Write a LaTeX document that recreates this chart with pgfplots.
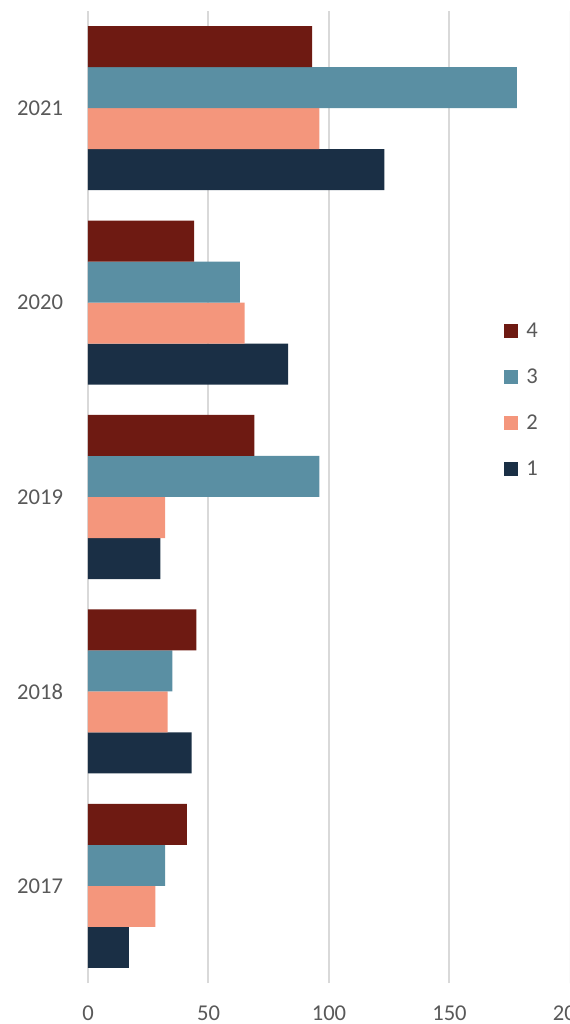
\documentclass[border=0pt]{standalone}
\usepackage{pgfplots}
\pgfplotsset{compat=1.18}
\usepackage{fontspec}
\setmainfont{Carlito}
\definecolor{cfour}{HTML}{6E1A12}
\definecolor{cthree}{HTML}{5A8FA3}
\definecolor{ctwo}{HTML}{F4967C}
\definecolor{cone}{HTML}{1A2F45}
\definecolor{gridgray}{HTML}{D9D9D9}
\definecolor{labgray}{HTML}{595959}
\begin{document}
\begin{tikzpicture}
\useasboundingbox (-44pt,-20.5pt) rectangle (240.5pt,491.5pt);
\clip (-44pt,-20.5pt) rectangle (240.5pt,491.5pt);
\begin{axis}[
  at={(0pt,0pt)}, anchor=south west,
  scale only axis, width=241pt, height=486pt,
  xmin=0, xmax=200, ymin=-0.5, ymax=4.5,
  xbar, bar width=0.2109,
  ytick={0,1,2,3,4}, yticklabels={2017,2018,2019,2020,2021},
  xtick={0,50,100,150,200},
  xmajorgrids, ymajorgrids=false,
  major grid style={draw=gridgray, line width=1pt},
  axis line style={draw=none},
  tick style={draw=none},
  font=\fontsize{11.3pt}{13pt}\selectfont,
  /pgf/number format/assume math mode=true,
  tick label style={text=labgray, inner sep=0pt},
  xticklabel style={anchor=north, yshift=-11pt},
  yticklabel style={anchor=east, xshift=-8pt},
  clip=false,
  legend image code/.code={\fill[#1] (0pt,-3.5pt) rectangle (7pt,3.5pt);},
  reverse legend,
  legend style={draw=none, fill=none, at={(axis description cs:0.863,0.600)}, anchor=west,
    inner sep=0pt, row sep=16pt, column sep=0pt, text=labgray,
    nodes={inner sep=0pt, text height=7pt, text depth=0pt},
    /tikz/every odd column/.append style={column sep=4pt}},
]
\addplot[fill=cone, draw=none, bar shift=-0.3164] coordinates {(17,0) (43,1) (30,2) (83,3) (123,4)};
\addplot[fill=ctwo, draw=none, bar shift=-0.1055] coordinates {(28,0) (33,1) (32,2) (65,3) (96,4)};
\addplot[fill=cthree, draw=none, bar shift=0.1055] coordinates {(32,0) (35,1) (96,2) (63,3) (178,4)};
\addplot[fill=cfour, draw=none, bar shift=0.3164] coordinates {(41,0) (45,1) (69,2) (44,3) (93,4)};
\legend{1,2,3,4}
\end{axis}
\end{tikzpicture}
\end{document}
